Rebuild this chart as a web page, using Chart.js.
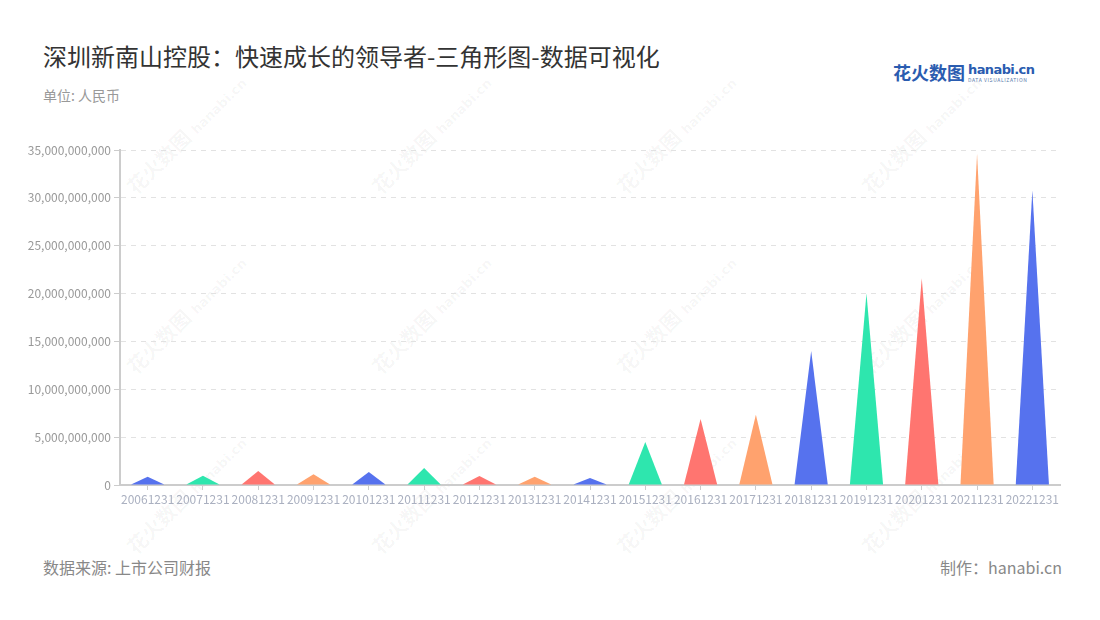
<!DOCTYPE html>
<html>
<head>
<meta charset="utf-8">
<script src="https://cdn.jsdelivr.net/npm/chart.js@4.4.0/dist/chart.umd.min.js"></script>
<style>
  html, body { margin: 0; padding: 0; background: #fff; }
  body { width: 1100px; height: 620px; position: relative; overflow: hidden; font-family: "Noto Sans CJK SC", "Noto Sans", sans-serif; }
  .title { position: absolute; left: 43px; top: 38px; font-size: 24px; color: #333; white-space: nowrap; }
  .unit { position: absolute; left: 43px; top: 85px; font-size: 14px; color: #999; }
  .src { position: absolute; left: 43px; top: 555px; font-size: 16px; color: #888; }
  .made { position: absolute; right: 38px; top: 555px; font-size: 16px; color: #888; }
  .logo { position: absolute; left: 893px; top: 61px; white-space: nowrap; color: #2a5cb0; }
  .logo .cn { font-size: 18px; font-weight: bold; vertical-align: top; line-height: 22px; }
  .logo .en { display: inline-block; vertical-align: top; margin-left: 3px; margin-top: 2px; }
  .logo .en b { display: block; font-family: "DejaVu Sans", sans-serif; font-size: 13px; line-height: 14px; letter-spacing: -0.6px; }
  .logo .en i { display: block; font-style: normal; font-size: 5px; line-height: 6px; letter-spacing: 0.6px; color: #5577aa; }
  .wm { position: absolute; font-size: 20px; font-weight: bold; color: rgba(0,0,0,0.045); transform: rotate(-45deg); transform-origin: left center; white-space: nowrap; }
  .wm small { font-size: 13px; margin-left: 6px; font-family: "DejaVu Sans", sans-serif; }
  #wrap { position: absolute; left: 0; top: 130px; width: 1100px; height: 385px; }
</style>
</head>
<body>
<div id="marks"></div>
<div class="title">深圳新南山控股：快速成长的领导者-三角形图-数据可视化</div>
<div class="unit">单位: 人民币</div>
<div class="logo"><span class="cn">花火数图</span><span class="en"><b>hanabi.cn</b><i>DATA VISUALIZATION</i></span></div>
<div id="wrap"><canvas id="triChart"></canvas></div>
<div class="src">数据来源: 上市公司财报</div>
<div class="made">制作：hanabi.cn</div>
<script>
const periods = ['20061231', '20071231', '20081231', '20091231', '20101231', '20111231', '20121231', '20131231', '20141231',
  '20151231', '20161231', '20171231', '20181231', '20191231', '20201231', '20211231', '20221231'];
const values = [0.87e9, 0.97e9, 1.46e9, 1.12e9, 1.36e9, 1.78e9, 0.94e9, 0.87e9, 0.73e9,
  4.49e9, 6.9e9, 7.35e9, 14.0e9, 20.0e9, 21.6e9, 34.6e9, 30.8e9];
const palette = ['#5672ee', '#2ee6ae', '#ff7570', '#ffa26e'];
const yTicks = [0, 5e9, 10e9, 15e9, 20e9, 25e9, 30e9, 35e9];

// watermark tiles
const marks = document.getElementById('marks');
for (let r = 0; r < 4; r++) {
  for (let c = 0; c < 5; c++) {
    const d = document.createElement('div');
    d.className = 'wm';
    d.style.left = (130 + c * 245) + 'px';
    d.style.top = (175 + r * 180) + 'px';
    d.innerHTML = '花火数图<small>hanabi.cn</small>';
    marks.appendChild(d);
  }
}

// draws each bar as a triangle using the bar element's geometry
const trianglePlugin = {
  id: 'triangles',
  afterDatasetsDraw(chart) {
    const ctx = chart.ctx;
    chart.getDatasetMeta(0).data.forEach((bar, i) => {
      const { x, y, base, width } = bar.getProps(['x', 'y', 'base', 'width'], true);
      ctx.save();
      ctx.beginPath();
      ctx.moveTo(x - width / 2, base);
      ctx.lineTo(x, y);
      ctx.lineTo(x + width / 2, base);
      ctx.closePath();
      ctx.fillStyle = palette[i % palette.length];
      ctx.fill();
      ctx.restore();
    });
  }
};

new Chart(document.getElementById('triChart').getContext('2d'), {
  type: 'bar',
  data: {
    labels: periods,
    datasets: [{
      data: values,
      backgroundColor: 'rgba(0,0,0,0)',
      borderWidth: 0,
      categoryPercentage: 0.6,
      barPercentage: 1
    }]
  },
  options: {
    responsive: true,
    maintainAspectRatio: false,
    animation: false,
    layout: { padding: { top: 20, right: 40, left: 0, bottom: 0 } },
    plugins: { legend: { display: false }, tooltip: { enabled: false } },
    scales: {
      x: {
        grid: { offset: false, drawOnChartArea: false, drawTicks: true, tickLength: 5, color: '#cccccc' },
        border: { color: '#cccccc', width: 2 },
        ticks: { autoSkip: false, maxRotation: 0, minRotation: 0, padding: 2, color: '#aab0c0', font: { size: 12, family: 'Noto Sans CJK SC' } },
        afterFit(scale) { scale.height = 30; }
      },
      y: {
        min: 0,
        max: 35e9,
        afterBuildTicks(scale) { scale.ticks = yTicks.map(v => ({ value: v })); },
        grid: { color: '#e2e2e2', tickColor: '#cccccc', tickLength: 6, lineWidth: 1 },
        border: { color: '#cccccc', width: 2, dash: [5, 5] },
        ticks: {
          padding: 3,
          color: '#999999',
          font: { size: 12, family: 'Noto Sans CJK SC' },
          callback: v => v.toLocaleString('en-US')
        },
        afterFit(scale) { scale.width = 120; }
      }
    }
  },
  plugins: [trianglePlugin]
});
</script>
</body>
</html>
